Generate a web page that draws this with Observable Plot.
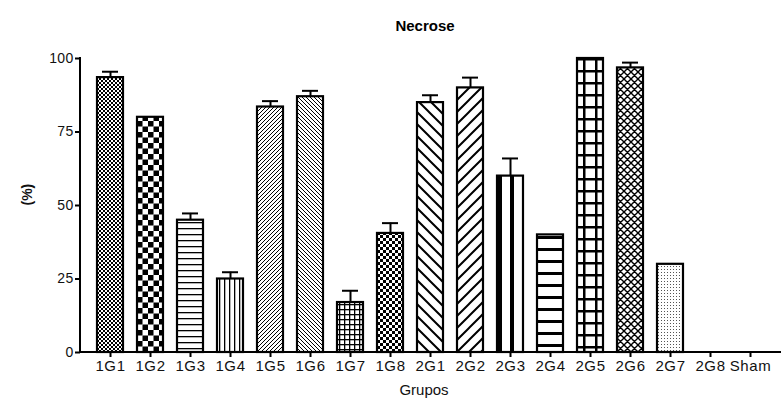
<!DOCTYPE html>
<html>
<head>
<meta charset="utf-8">
<script src="https://cdn.jsdelivr.net/npm/d3@7"></script>
<script src="https://cdn.jsdelivr.net/npm/@observablehq/plot@0.6"></script>
<style>
  html, body { margin: 0; padding: 0; background: #fff; }
  svg { font-family: "Liberation Sans", Arial, sans-serif; }
  svg g[aria-label="x-axis tick label"] text { letter-spacing: 0.6px; }
  svg g[aria-label="y-axis tick label"] text { letter-spacing: 0.3px; }
</style>
</head>
<body>
<div id="chart"></div>
<script>
const groups = ["1G1","1G2","1G3","1G4","1G5","1G6","1G7","1G8","2G1","2G2","2G3","2G4","2G5","2G6","2G7","2G8","Sham"];
const means  = [93.5, 80, 45, 25, 83.5, 87, 17, 40.5, 85, 90, 60, 40, 100, 96.8, 30, 0, 0];
const errors = [2, 0, 2.3, 2.3, 2, 2, 4, 3.5, 2.5, 3.5, 6, 0, 0, 1.8, 0, 0, 0];
const yTicks = [0, 25, 50, 75, 100];
const title = "Necrose";
const xLabel = "Grupos";
const yLabel = "(%)";

const data = groups.map((g, i) => ({group: g, value: means[i], err: errors[i]}));
const withErr = data.filter(d => d.err > 0);
const patId = g => "pat-" + g;

const W = 782, H = 405;
const plot = Plot.plot({
  width: W, height: H,
  marginLeft: 80, marginRight: 3, marginTop: 58, marginBottom: 53,
  style: {fontFamily: '"Liberation Sans", Arial, sans-serif', fontSize: "14px", color: "#000", background: "#fff"},
  x: {domain: groups, paddingInner: 0.35, paddingOuter: 0.2, label: null},
  y: {domain: [0, 100], label: null},
  color: {type: "identity"},
  marks: [
    Plot.barY(data, {x: "group", y: "value", fill: d => `url(#${patId(d.group)})`, stroke: "#000", strokeWidth: 2.2}),
    Plot.ruleX(withErr, {x: "group", y1: "value", y2: d => d.value + d.err, stroke: "#000", strokeWidth: 2}),
    Plot.tickY(withErr, {x: "group", y: d => d.value + d.err, stroke: "#000", strokeWidth: 2, insetLeft: 5, insetRight: 5}),
    Plot.axisY({ticks: yTicks, tickSize: 5, tickPadding: 2, stroke: "#000", strokeWidth: 2, strokeOpacity: 1, fontSize: 14, fill: "#111"}),
    Plot.axisX({tickSize: 5, tickPadding: 3, stroke: "#000", strokeWidth: 2, strokeOpacity: 1, fontSize: 15, fill: "#111"}),
    Plot.text([title], {frameAnchor: "top", dy: -38, dx: -5, fontWeight: "bold", fontSize: 15, fill: "#000"}),
    Plot.text([xLabel], {frameAnchor: "bottom", dy: 42, dx: -6, fontSize: 15, fill: "#111"}),
    Plot.text([yLabel], {frameAnchor: "left", dx: -53, rotate: -90, fontSize: 14, fontWeight: "bold", fill: "#111"})
  ]
});
document.getElementById("chart").appendChild(plot);

// axis lines
const xs = plot.scale("x"), ys = plot.scale("y");
const svg = d3.select(plot);
const y0 = ys.apply(0), y100 = ys.apply(100);
svg.append("line").attr("x1", 80).attr("x2", 781).attr("y1", y0).attr("y2", y0).attr("stroke", "#000").attr("stroke-width", 2);
svg.append("line").attr("x1", 80).attr("x2", 80).attr("y1", y100 - 1).attr("y2", y0 + 1).attr("stroke", "#000").attr("stroke-width", 2);

// hatch patterns
const W0 = "<rect width='100' height='100' fill='#fff'/>";
const patterns = {
  "1G1": [4, 4, W0 + "<rect width='2' height='2' fill='#000'/><rect x='2' y='2' width='2' height='2' fill='#000'/>"],
  "1G2": [11, 11, W0 + "<rect width='5.5' height='5.5' fill='#000'/><rect x='5.5' y='5.5' width='5.5' height='5.5' fill='#000'/>"],
  "1G3": [6, 6, W0 + "<rect y='2' width='6' height='1.3' fill='#000'/>"],
  "1G4": [5, 5, W0 + "<rect x='2' width='1.3' height='5' fill='#000'/>"],
  "1G5": [4, 4, W0 + "<path d='M0,4L4,0M-1,1L1,-1M3,5L5,3' stroke='#000' stroke-width='1'/>"],
  "1G6": [4, 4, W0 + "<path d='M0,0L4,4M-1,3L1,5M3,-1L5,1' stroke='#000' stroke-width='1'/>"],
  "1G7": [5, 5, W0 + "<rect x='2' width='1.3' height='5' fill='#000'/><rect y='2' width='5' height='1.3' fill='#000'/>"],
  "1G8": [6, 6, W0 + "<rect width='3' height='3' fill='#000'/><rect x='3' y='3' width='3' height='3' fill='#000'/>"],
  "2G1": [12, 12, W0 + "<path d='M0,0L12,12M-6,6L6,18M6,-6L18,6' stroke='#000' stroke-width='2'/>"],
  "2G2": [12, 12, W0 + "<path d='M0,12L12,0M-6,6L6,-6M6,18L18,6' stroke='#000' stroke-width='2'/>"],
  "2G3": [12, 12, W0 + "<rect x='1' width='4' height='12' fill='#000'/>"],
  "2G4": [12, 12, W0 + "<rect y='4' width='12' height='3' fill='#000'/>"],
  "2G5": [12, 12, W0 + "<rect x='6' width='2.5' height='12' fill='#000'/><rect y='6' width='12' height='2.5' fill='#000'/>"],
  "2G6": [7, 7, W0 + "<path d='M0,0L7,7M0,7L7,0M-1,6L1,8M6,-1L8,1M-1,1L1,-1M6,8L8,6' stroke='#000' stroke-width='1.4'/>"],
  "2G7": [3, 3, W0 + "<rect x='1' y='1' width='1' height='1' fill='#555'/>"],
  "2G8": [4, 4, W0],
  "Sham": [4, 4, W0]
};
const defs = svg.insert("defs", ":first-child");
for (const g of groups) {
  const [w, h, content] = patterns[g];
  const x0 = xs.apply(g);
  defs.append("pattern")
    .attr("id", patId(g))
    .attr("patternUnits", "userSpaceOnUse")
    .attr("width", w).attr("height", h)
    .attr("patternTransform", `translate(${x0},${y0})`)
    .html(content);
}
</script>
</body>
</html>
